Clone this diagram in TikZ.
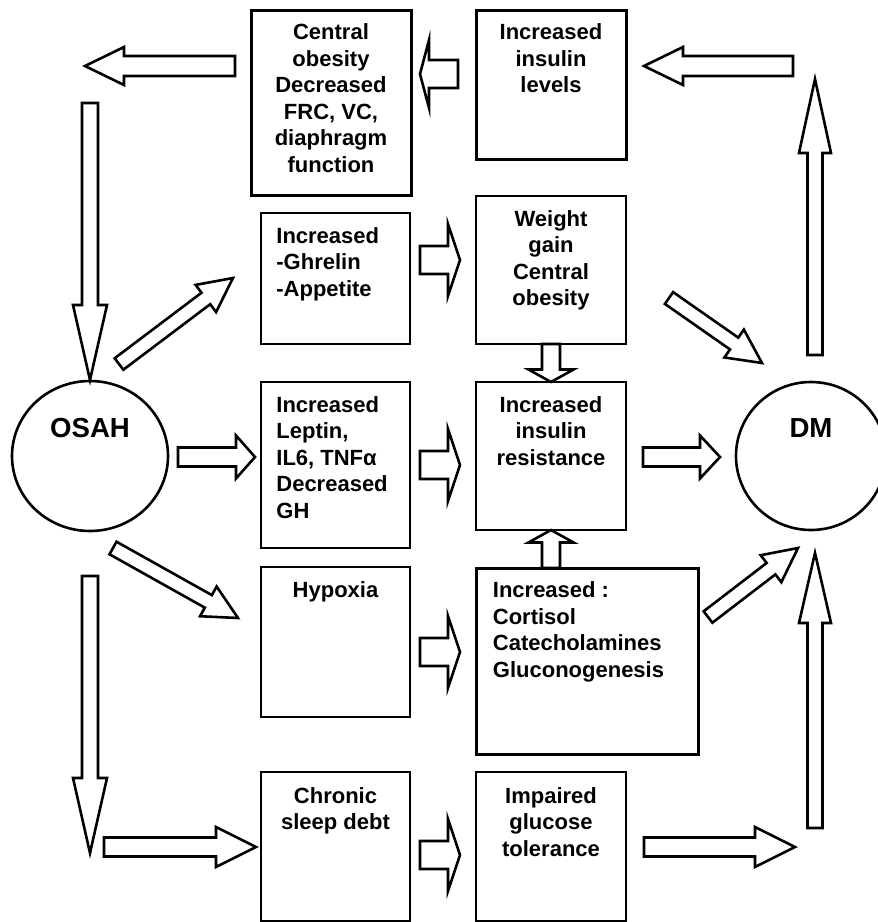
\documentclass[tikz,border=0pt]{standalone}
\usepackage{fontspec}
\setmainfont{Liberation Sans}
\usetikzlibrary{calc,shapes.geometric}

\tikzset{
  box/.style={draw, line width=1pt, inner sep=0pt},
  thickbox/.style={box, line width=1.5pt},
  circ/.style={draw, ellipse, line width=1.3pt, inner sep=0pt},
  txt/.style={font=\bfseries\fontsize{11}{13.25}\selectfont, align=center, inner sep=0pt},
  ltxt/.style={txt, align=left},
  bigtxt/.style={font=\bfseries\fontsize{13.8}{16}\selectfont, inner sep=0pt},
  fat/.style={draw, line width=1.3pt, line join=miter},
}

% block arrow: from, to, shaft half width, head half width, head length
\newcommand{\fatarrow}[5]{%
  \coordinate (hb) at ($(#2)!#5!(#1)$);
  \draw[fat] ($(#1)!#3!90:(#2)$) -- ($(hb)!#3!90:(#2)$) -- ($(hb)!#4!90:(#2)$)
    -- (#2) -- ($(hb)!#4!-90:(#2)$) -- ($(hb)!#3!-90:(#2)$) -- ($(#1)!#3!-90:(#2)$) -- cycle;
}

\begin{document}
\begin{tikzpicture}[x=0.5pt, y=-0.5pt]
\useasboundingbox (0,0) rectangle (878,922);

%% OSAH and DM
\node[circ, minimum width=78pt, minimum height=75pt] (osah) at (90,456) {};
\node[bigtxt] (osaht) at (90,428) {OSAH};
\node[circ, minimum width=75pt, minimum height=74pt] (dm) at (811,456) {};
\node[bigtxt] (dmt) at (811,428) {DM};

%% top row
\node[thickbox, minimum width=80pt, minimum height=92.5pt] (cob) at (331,102.5) {};
\node[txt, anchor=north] (cobt) at ([yshift=-7.5pt]cob.north) {Central\\obesity\\Decreased\\FRC, VC,\\diaphragm\\function};
\node[thickbox, minimum width=75pt, minimum height=74.5pt] (inl) at (551,84.5) {};
\node[txt, anchor=north] (inlt) at ([yshift=-7.5pt]inl.north) {Increased\\insulin\\levels};

%% second row
\node[box, minimum width=74.5pt, minimum height=65.5pt] (ghr) at (335.5,278.5) {};
\node[ltxt, anchor=north west] (ghrt) at ([xshift=8pt,yshift=-7.5pt]ghr.north west) {Increased\\-Ghrelin\\-Appetite};
\node[box, minimum width=75pt, minimum height=74pt] (wgt) at (551,270) {};
\node[txt, anchor=north] (wgtt) at ([yshift=-7.5pt]wgt.north) {Weight\\gain\\Central\\obesity};

%% third row
\node[box, minimum width=74.5pt, minimum height=83pt] (lep) at (335.5,465) {};
\node[ltxt, anchor=north west] (lept) at ([xshift=8pt,yshift=-7.5pt]lep.north west) {Increased\\Leptin,\\IL6, TNFα\\Decreased\\GH};
\node[box, minimum width=75pt, minimum height=74pt] (res) at (551,456) {};
\node[txt, anchor=north] (rest) at ([yshift=-7.5pt]res.north) {Increased\\insulin\\resistance};

%% fourth row
\node[box, minimum width=74.5pt, minimum height=75pt] (hyp) at (335.5,642) {};
\node[txt, anchor=north] (hypt) at ([yshift=-7.5pt]hyp.north) {Hypoxia};
\node[thickbox, minimum width=111pt, minimum height=93pt] (cor) at (587,661) {};
\node[ltxt, anchor=north west] (cort) at ([xshift=9pt,yshift=-7.5pt]cor.north west) {Increased :\\Cortisol\\Catecholamines\\Gluconogenesis};

%% bottom row
\node[box, minimum width=74.5pt, minimum height=74.5pt] (slp) at (335.5,846.5) {};
\node[txt, anchor=north] (slpt) at ([yshift=-8pt]slp.north) {Chronic\\sleep debt};
\node[box, minimum width=75pt, minimum height=74.5pt] (igt) at (551,846.5) {};
\node[txt, anchor=north] (igtt) at ([yshift=-8pt]igt.north) {Impaired\\glucose\\tolerance};

%% arrow ends
\coordinate (a1s) at (793,66);  \coordinate (a1e) at (644,66);
\coordinate (a2s) at (235,66);  \coordinate (a2e) at (85,66);
\coordinate (a3s) at (458,74);  \coordinate (a3e) at (420,74);
\coordinate (a4s) at (90,103);  \coordinate (a4e) at (90,380);
\coordinate (a5s) at (90,576);  \coordinate (a5e) at (90,853);
\coordinate (a6s) at (119,364); \coordinate (a6e) at (233,278);
\coordinate (a7s) at (178,457); \coordinate (a7e) at (255,457);
\coordinate (a8s) at (113,548); \coordinate (a8e) at (238,618);
\coordinate (a9s) at (104,847); \coordinate (a9e) at (256,847);
\coordinate (b1s) at (420,260); \coordinate (b1e) at (460,260);
\coordinate (b2s) at (420,465); \coordinate (b2e) at (460,465);
\coordinate (b3s) at (420,652); \coordinate (b3e) at (460,652);
\coordinate (b4s) at (420,855); \coordinate (b4e) at (460,855);
\coordinate (c1s) at (551,344); \coordinate (c1e) at (551,382);
\coordinate (c2s) at (551,568); \coordinate (c2e) at (551,530);
\coordinate (c3s) at (643,457); \coordinate (c3e) at (720,457);
\coordinate (c4s) at (644,847); \coordinate (c4e) at (795,847);
\coordinate (c5s) at (669,298); \coordinate (c5e) at (762,363);
\coordinate (c6s) at (708,617); \coordinate (c6e) at (798,548);
\coordinate (c7s) at (815,355); \coordinate (c7e) at (815,79);
\coordinate (c8s) at (815,828); \coordinate (c8e) at (815,553);

%% top arrows
\fatarrow{a1s}{a1e}{5pt}{9.5pt}{19.5pt}
\fatarrow{a2s}{a2e}{5pt}{9.5pt}{19.5pt}
\fatarrow{a3s}{a3e}{7pt}{17pt}{4.5pt}

%% from OSAH
\fatarrow{a4s}{a4e}{4pt}{8.5pt}{37.5pt}
\fatarrow{a5s}{a5e}{4pt}{8.5pt}{37.5pt}
\fatarrow{a6s}{a6e}{3.6pt}{8.5pt}{17pt}
\fatarrow{a7s}{a7e}{4.75pt}{10.75pt}{9.5pt}
\fatarrow{a8s}{a8e}{3.6pt}{8.5pt}{17pt}
\fatarrow{a9s}{a9e}{4.75pt}{10pt}{20pt}

%% between the columns
\fatarrow{b1s}{b1e}{7pt}{18pt}{6pt}
\fatarrow{b2s}{b2e}{7pt}{18pt}{6pt}
\fatarrow{b3s}{b3e}{7pt}{18pt}{6pt}
\fatarrow{b4s}{b4e}{7pt}{18pt}{6pt}
\fatarrow{c1s}{c1e}{4.5pt}{11.25pt}{6.25pt}
\fatarrow{c2s}{c2e}{4.5pt}{11.25pt}{6.25pt}

%% to DM
\fatarrow{c3s}{c3e}{4.75pt}{10.75pt}{10pt}
\fatarrow{c4s}{c4e}{4.75pt}{10pt}{20pt}
\fatarrow{c5s}{c5e}{3.6pt}{8.5pt}{17pt}
\fatarrow{c6s}{c6e}{3.6pt}{8.5pt}{17pt}
\fatarrow{c7s}{c7e}{3.75pt}{8pt}{37pt}
\fatarrow{c8s}{c8e}{3.75pt}{8pt}{35pt}

\end{tikzpicture}
\end{document}
